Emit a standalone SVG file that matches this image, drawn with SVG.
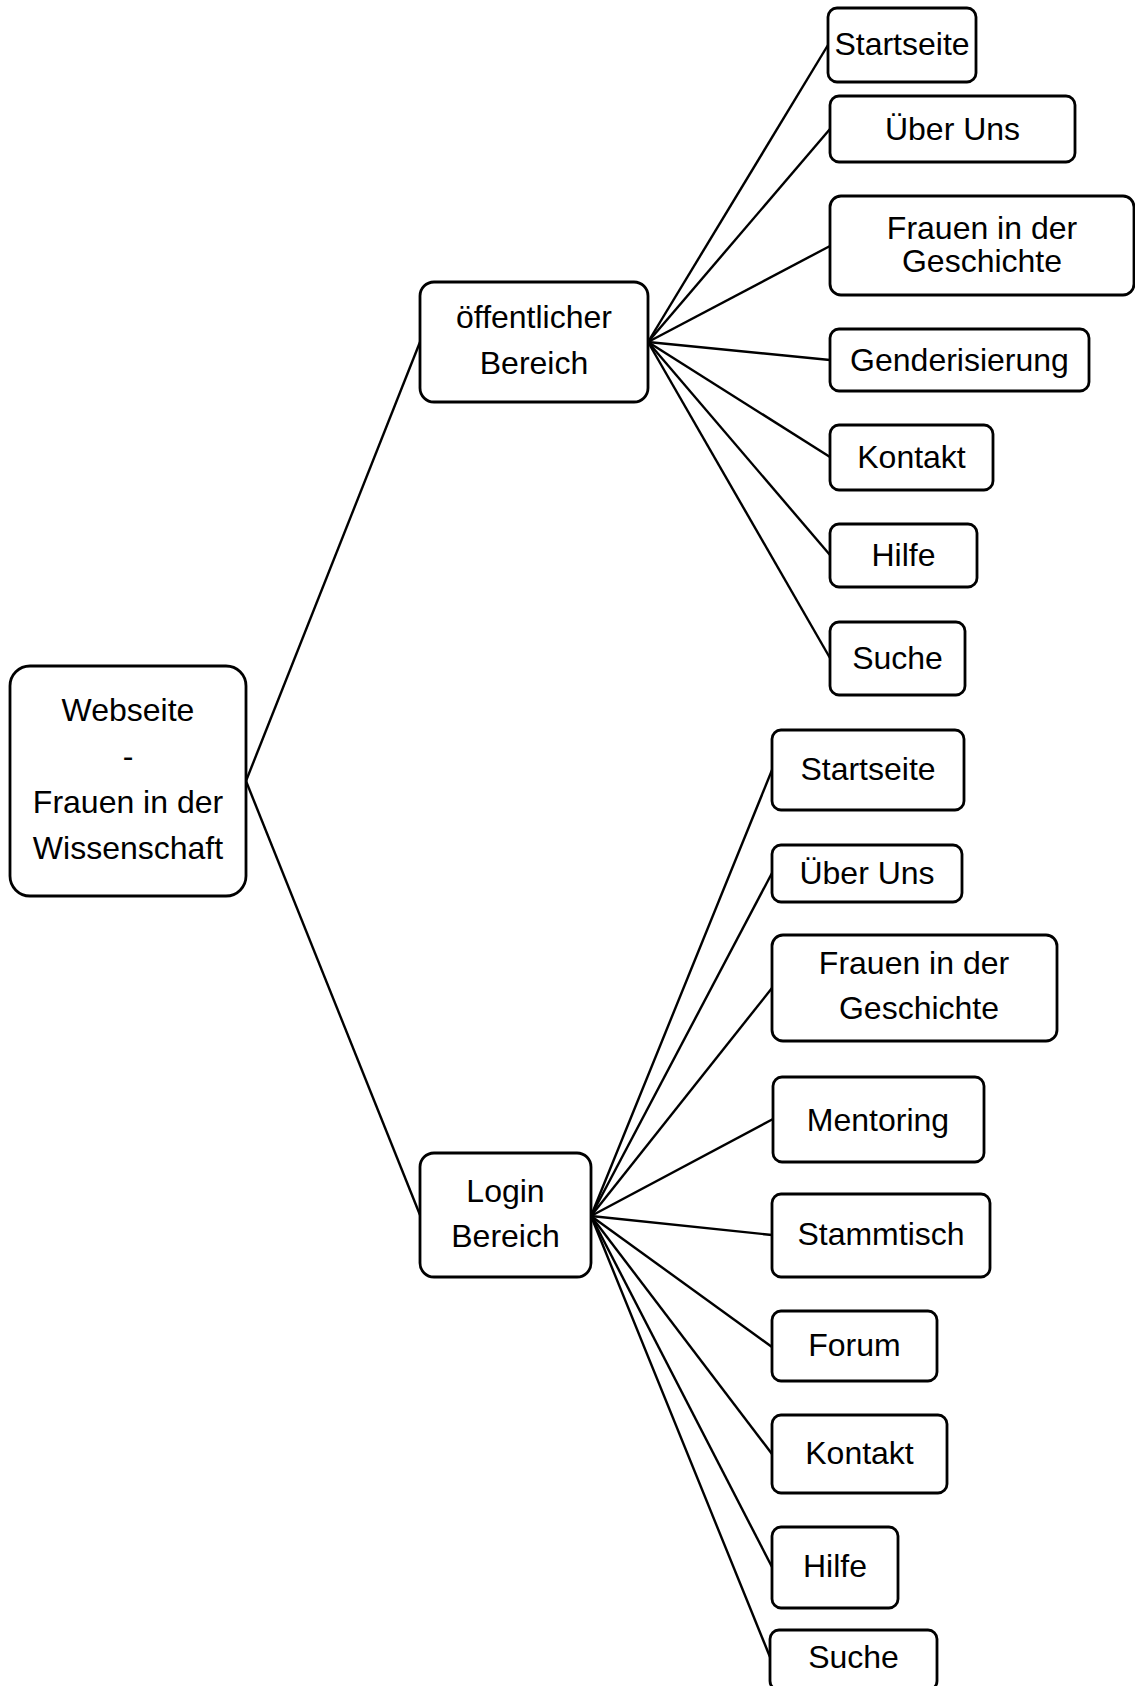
<svg xmlns="http://www.w3.org/2000/svg" width="1135" height="1686" viewBox="0 0 1135 1686">
<style>
.box{fill:#fff;stroke:#000;stroke-width:2.8}
.t{font-family:"Liberation Sans",Arial,sans-serif;font-size:32px;fill:#000;text-anchor:middle}
.c line{stroke:#000;stroke-width:2.4}
</style>
<rect width="1135" height="1686" fill="#fff"/>
<g id="connectors" class="c">
<line x1="246" y1="781" x2="420" y2="342"/>
<line x1="246" y1="781" x2="420" y2="1215"/>
<line x1="648" y1="342" x2="828" y2="45"/>
<line x1="648" y1="342" x2="830" y2="129"/>
<line x1="648" y1="342" x2="830" y2="246"/>
<line x1="648" y1="342" x2="830" y2="360"/>
<line x1="648" y1="342" x2="830" y2="457"/>
<line x1="648" y1="342" x2="830" y2="555"/>
<line x1="648" y1="342" x2="830" y2="658"/>
<line x1="591" y1="1216" x2="772" y2="770"/>
<line x1="591" y1="1216" x2="772" y2="873"/>
<line x1="591" y1="1216" x2="772" y2="988"/>
<line x1="591" y1="1216" x2="773" y2="1119"/>
<line x1="591" y1="1216" x2="772" y2="1235"/>
<line x1="591" y1="1216" x2="772" y2="1347"/>
<line x1="591" y1="1216" x2="772" y2="1454"/>
<line x1="591" y1="1216" x2="772" y2="1567"/>
<line x1="591" y1="1216" x2="770" y2="1657"/>
</g>
<g id="root"><rect class="box" x="10" y="666" width="236" height="230" rx="20"/>
<text class="t" x="128" y="721">Webseite</text><text class="t" x="128" y="767">-</text><text class="t" x="128" y="813">Frauen in der</text><text class="t" x="128" y="859">Wissenschaft</text></g>
<g id="public"><rect class="box" x="420" y="282" width="228" height="120" rx="14"/>
<text class="t" x="534" y="328">öffentlicher</text><text class="t" x="534" y="374">Bereich</text></g>
<g id="login"><rect class="box" x="420" y="1153" width="171" height="124" rx="14"/>
<text class="t" x="505.5" y="1202">Login</text><text class="t" x="505.5" y="1247">Bereich</text></g>
<g id="p-startseite"><rect class="box" x="828" y="8" width="148" height="74" rx="9"/><text class="t" x="902" y="55">Startseite</text></g>
<g id="p-ueber"><rect class="box" x="830" y="96" width="245" height="66" rx="9"/><text class="t" x="952.5" y="140">Über Uns</text></g>
<g id="p-frauen"><rect class="box" x="830" y="196" width="304" height="99" rx="11"/><text class="t" x="982" y="239">Frauen in der</text><text class="t" x="982" y="272">Geschichte</text></g>
<g id="p-gender"><rect class="box" x="830" y="329" width="259" height="62" rx="9"/><text class="t" x="959.5" y="371">Genderisierung</text></g>
<g id="p-kontakt"><rect class="box" x="830" y="425" width="163" height="65" rx="9"/><text class="t" x="911.5" y="468">Kontakt</text></g>
<g id="p-hilfe"><rect class="box" x="830" y="524" width="147" height="63" rx="9"/><text class="t" x="903.5" y="566">Hilfe</text></g>
<g id="p-suche"><rect class="box" x="830" y="622" width="135" height="73" rx="9"/><text class="t" x="897.5" y="669">Suche</text></g>
<g id="l-startseite"><rect class="box" x="772" y="730" width="192" height="80" rx="9"/><text class="t" x="868" y="780">Startseite</text></g>
<g id="l-ueber"><rect class="box" x="772" y="845" width="190" height="57" rx="9"/><text class="t" x="867" y="884">Über Uns</text></g>
<g id="l-frauen"><rect class="box" x="772" y="935" width="285" height="106" rx="11"/><text class="t" x="914" y="974">Frauen in der</text><text class="t" x="919" y="1019">Geschichte</text></g>
<g id="l-mentoring"><rect class="box" x="773" y="1077" width="211" height="85" rx="9"/><text class="t" x="878" y="1131">Mentoring</text></g>
<g id="l-stammtisch"><rect class="box" x="772" y="1194" width="218" height="83" rx="9"/><text class="t" x="881" y="1245">Stammtisch</text></g>
<g id="l-forum"><rect class="box" x="772" y="1311" width="165" height="70" rx="9"/><text class="t" x="854.5" y="1356">Forum</text></g>
<g id="l-kontakt"><rect class="box" x="772" y="1415" width="175" height="78" rx="9"/><text class="t" x="859.5" y="1464">Kontakt</text></g>
<g id="l-hilfe"><rect class="box" x="772" y="1527" width="126" height="81" rx="9"/><text class="t" x="835" y="1577">Hilfe</text></g>
<g id="l-suche"><rect class="box" x="770" y="1630" width="167" height="60" rx="9"/><text class="t" x="853.5" y="1668">Suche</text></g>
</svg>
